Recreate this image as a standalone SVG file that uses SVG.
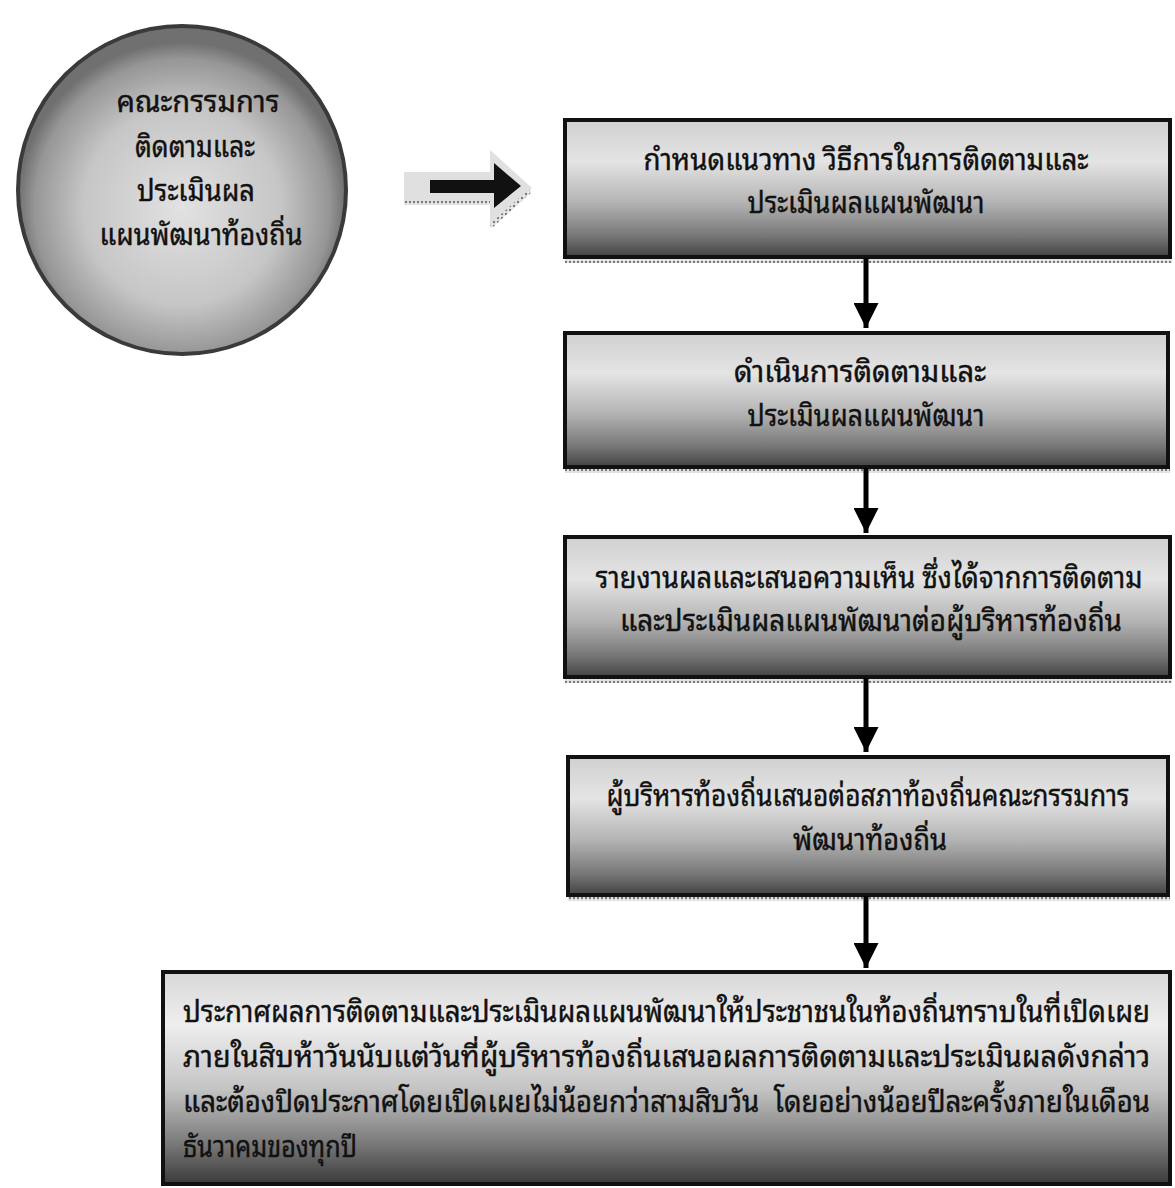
<svg xmlns="http://www.w3.org/2000/svg" width="1175" height="1188" viewBox="0 0 1175 1188">
  <defs>
    <linearGradient id="boxGrad" x1="0" y1="0" x2="0" y2="1">
      <stop offset="0" stop-color="#d0d0d0"/>
      <stop offset="0.3" stop-color="#e4e4e4"/>
      <stop offset="0.6" stop-color="#b4b4b4"/>
      <stop offset="0.85" stop-color="#767676"/>
      <stop offset="1" stop-color="#424242"/>
    </linearGradient>
    <linearGradient id="bigGrad" x1="0" y1="0" x2="0" y2="1">
      <stop offset="0" stop-color="#d8d8d8"/>
      <stop offset="0.25" stop-color="#eeeeee"/>
      <stop offset="0.55" stop-color="#c4c4c4"/>
      <stop offset="0.8" stop-color="#7c7c7c"/>
      <stop offset="1" stop-color="#3a3a3a"/>
    </linearGradient>
    <radialGradient id="circGrad" cx="0.5" cy="0.55" r="0.5">
      <stop offset="0" stop-color="#e2e2e2"/>
      <stop offset="0.6" stop-color="#c6c6c6"/>
      <stop offset="0.9" stop-color="#969696"/>
      <stop offset="1" stop-color="#707070"/>
    </radialGradient>
    <pattern id="dots" width="4" height="4" patternUnits="userSpaceOnUse">
      <rect width="4" height="4" fill="#e8e8e8"/>
      <circle cx="2" cy="2" r="1.2" fill="#777"/>
    </pattern>
    <marker id="head" viewBox="0 0 10 10" refX="10" refY="5" markerWidth="5" markerHeight="5" markerUnits="strokeWidth" orient="auto">
      <path d="M0,0 L10,5 L0,10 z" fill="#000"/>
    </marker>
    <style>
      .box { stroke:#111; stroke-width:4; fill:url(#boxGrad); }
      .shadow { fill:url(#dots); }
      .t { font-family:"Noto Sans Thai Looped","Noto Serif Thai","Garuda","Loma","Noto Sans Thai","Noto Sans","DejaVu Sans",sans-serif; font-size:29px; fill:#111; stroke:#111; stroke-width:0.4; }
      .c { text-anchor:middle; }
      .conn { stroke:#000; stroke-width:5; fill:none; marker-end:url(#head); }
    </style>
  </defs>
  <rect width="1175" height="1188" fill="#fff"/>

  <g id="node-committee">
    <circle cx="182" cy="190" r="164" fill="url(#circGrad)" stroke="#3a3a3a" stroke-width="4"/>
    <text class="t c" x="198" y="112" textLength="163" lengthAdjust="spacingAndGlyphs">คณะกรรมการ</text>
    <text class="t c" x="195" y="157" textLength="120" lengthAdjust="spacingAndGlyphs">ติดตามและ</text>
    <text class="t c" x="196" y="201" textLength="118" lengthAdjust="spacingAndGlyphs">ประเมินผล</text>
    <text class="t c" x="201" y="245" textLength="203" lengthAdjust="spacingAndGlyphs">แผนพัฒนาท้องถิ่น</text>
  </g>

  <g id="node-bigarrow">
    <polygon points="404,172 490,172 490,150 532,188 490,228 490,204 404,204" fill="#e0e0e0"/>
    <rect x="404" y="201" width="86" height="4" fill="url(#dots)"/>
    <line x1="491" y1="226" x2="530" y2="191" stroke="url(#dots)" stroke-width="4"/>
    <polygon points="430,180 494,180 494,163 521,186 494,208 494,193 430,193" fill="#111"/>
  </g>

  <g id="node-1">
    <rect class="shadow" x="565" y="258" width="607" height="5"/>
    <rect class="box" x="565" y="120" width="605" height="137"/>
    <text class="t c" x="866" y="170" textLength="445" lengthAdjust="spacingAndGlyphs">กำหนดแนวทาง วิธีการในการติดตามและ</text>
    <text class="t c" x="866" y="213" textLength="237" lengthAdjust="spacingAndGlyphs">ประเมินผลแผนพัฒนา</text>
  </g>

  <g id="node-2">
    <rect class="shadow" x="565" y="468" width="605" height="5"/>
    <rect class="box" x="565" y="333" width="603" height="134"/>
    <text class="t c" x="860" y="382" textLength="252" lengthAdjust="spacingAndGlyphs">ดำเนินการติดตามและ</text>
    <text class="t c" x="866" y="426" textLength="237" lengthAdjust="spacingAndGlyphs">ประเมินผลแผนพัฒนา</text>
  </g>

  <g id="node-3">
    <rect class="shadow" x="565" y="678" width="607" height="5"/>
    <rect class="box" x="565" y="537" width="605" height="140"/>
    <text class="t c" x="869" y="588" textLength="547" lengthAdjust="spacingAndGlyphs">รายงานผลและเสนอความเห็น ซึ่งได้จากการติดตาม</text>
    <text class="t c" x="871" y="631" textLength="502" lengthAdjust="spacingAndGlyphs">และประเมินผลแผนพัฒนาต่อผู้บริหารท้องถิ่น</text>
  </g>

  <g id="node-4">
    <rect class="shadow" x="568" y="896" width="602" height="5"/>
    <rect class="box" x="568" y="757" width="600" height="138"/>
    <text class="t c" x="868" y="806" textLength="523" lengthAdjust="spacingAndGlyphs">ผู้บริหารท้องถิ่นเสนอต่อสภาท้องถิ่นคณะกรรมการ</text>
    <text class="t c" x="870" y="850" textLength="154" lengthAdjust="spacingAndGlyphs">พัฒนาท้องถิ่น</text>
  </g>

  <g id="node-5">
    <rect class="box" x="163" y="972" width="1007" height="212" style="fill:url(#bigGrad)"/>
    <text class="t" x="183" y="1022" textLength="967" lengthAdjust="spacingAndGlyphs">ประกาศผลการติดตามและประเมินผลแผนพัฒนาให้ประชาชนในท้องถิ่นทราบในที่เปิดเผย</text>
    <text class="t" x="183" y="1067" textLength="967" lengthAdjust="spacingAndGlyphs">ภายในสิบห้าวันนับแต่วันที่ผู้บริหารท้องถิ่นเสนอผลการติดตามและประเมินผลดังกล่าว</text>
    <text class="t" x="183" y="1112" textLength="967" lengthAdjust="spacingAndGlyphs" style="white-space:pre">และต้องปิดประกาศโดยเปิดเผยไม่น้อยกว่าสามสิบวัน  โดยอย่างน้อยปีละครั้งภายในเดือน</text>
    <text class="t" x="183" y="1157" textLength="174" lengthAdjust="spacingAndGlyphs">ธันวาคมของทุกปี</text>
  </g>

  <g id="connectors">
    <line class="conn" x1="866" y1="258" x2="866" y2="328"/>
    <line class="conn" x1="866" y1="468" x2="866" y2="533"/>
    <line class="conn" x1="866" y1="678" x2="866" y2="752"/>
    <line class="conn" x1="866" y1="896" x2="866" y2="968"/>
  </g>
</svg>
